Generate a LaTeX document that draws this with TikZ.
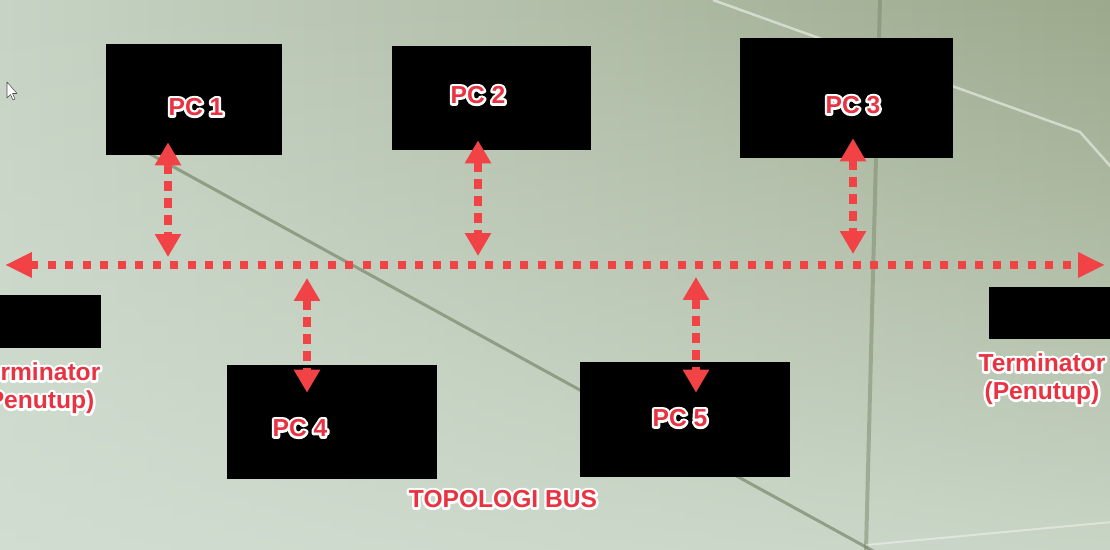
\documentclass[tikz,border=0pt]{standalone}
\usepackage{fontspec}
\setmainfont{Liberation Sans}
\usetikzlibrary{arrows.meta,calc,fadings}

\definecolor{busred}{RGB}{241,67,70}
\definecolor{tagred}{RGB}{232,52,66}
\definecolor{bgleft}{RGB}{199,211,196}
\definecolor{bgright}{RGB}{156,169,140}
\definecolor{bglight}{RGB}{212,224,212}
\definecolor{seam}{RGB}{120,136,106}
% white outline behind the red text
\newcommand{\tg}[1]{\leavevmode\rlap{\special{pdf:literal direct 1 Tr 1 1 1 RG 2.8 w 1 j}#1\special{pdf:literal direct 0 Tr 0.4 w}}#1}

\begin{document}
\begin{tikzpicture}[x=0.02cm, y=-0.02cm,
    pcbox/.style={fill=black, inner sep=0pt},
    tag/.style={text=tagred, font=\fontsize{14}{16}\selectfont\bfseries, align=center, inner sep=0pt},
    bus/.style={busred, line width=0.16cm, dash pattern=on 0.16cm off 0.19cm,
        {Triangle[length=0.54cm,width=0.48cm]}-{Triangle[length=0.54cm,width=0.48cm]}},
    tap/.style={busred, line width=0.15cm, dash pattern=on 0.2cm off 0.14cm,
        {Triangle[length=0.46cm,width=0.5cm]}-{Triangle[length=0.46cm,width=0.5cm]}}]
    \useasboundingbox (0,0) rectangle (1110,550);
    % background
    \shade[left color=bgleft, right color=bgright] (0,0) rectangle (1110,550);
    \fill[bglight, path fading=north, fill opacity=0.8] (0,0) rectangle (1110,550);
    \draw[seam, line width=0.06cm, opacity=0.7] (130,143) -- (875,552);
    \draw[seam, line width=0.08cm, opacity=0.5] (880,0) -- (866,550);
    \draw[white, line width=0.05cm, opacity=0.5] (713,0) -- (1080,132) -- (1112,168);
    \draw[white, line width=0.04cm, opacity=0.4] (866,545) -- (1112,522);
    \draw[fill=white, draw=black!70, line width=0.3pt, line join=round]
        (7,82) -- (7,98) -- (10.5,94.5) -- (13,100) -- (15,99) -- (12.5,93.5) -- (17,93.5) -- cycle;

    % boxes
    \node[pcbox, minimum width=3.52cm, minimum height=2.22cm] (pc1) at (194,99.5) {};
    \node[pcbox, minimum width=3.98cm, minimum height=2.08cm] (pc2) at (491.5,98) {};
    \node[pcbox, minimum width=4.26cm, minimum height=2.40cm] (pc3) at (846.5,98) {};
    \node[pcbox, minimum width=4.20cm, minimum height=2.28cm] (pc4) at (332,422) {};
    \node[pcbox, minimum width=4.20cm, minimum height=2.30cm] (pc5) at (685,419.5) {};
    \node[pcbox, minimum width=2.42cm, minimum height=1.06cm] (termL) at (40.5,321.5) {};
    \node[pcbox, minimum width=2.82cm, minimum height=1.04cm] (termR) at (1059.5,313) {};

    % bus and taps
    \coordinate (busL) at (5,265);
    \coordinate (busR) at (1105,265);
    \coordinate (t1) at (168,265);
    \coordinate (t2) at (478,265);
    \coordinate (t3) at (853,265);
    \coordinate (t4) at (307,265);
    \coordinate (t5) at (696,265);
    \draw[tap] ($(pc1.south -| t1)+(0,-13)$) -- ($(t1)+(0,-8)$);
    \draw[tap] ($(pc2.south -| t2)+(0,-10)$) -- ($(t2)+(0,-9)$);
    \draw[tap] ($(pc3.south -| t3)+(0,-20)$) -- ($(t3)+(0,-11)$);
    \draw[tap] ($(t4)+(0,13)$) -- ($(pc4.north -| t4)+(0,28)$);
    \draw[tap] ($(t5)+(0,12)$) -- ($(pc5.north -| t5)+(0,31)$);
    \draw[bus] (busL) -- (busR);

    % labels
    \node[tag] (pc1txt) at (196,107) {\tg{PC 1}};
    \node[tag] (pc2txt) at (478,95) {\tg{PC 2}};
    \node[tag] (pc3txt) at (853,105) {\tg{PC 3}};
    \node[tag] (pc4txt) at (300,428) {\tg{PC 4}};
    \node[tag] (pc5txt) at (680,418) {\tg{PC 5}};
    \node[tag] (termLtxt) at (37,388) {\tg{Terminator}\\\tg{(Penutup)}};
    \node[tag] (termRtxt) at (1042,379) {\tg{Terminator}\\\tg{(Penutup)}};
    \node[tag] (title) at (503,499) {\tg{TOPOLOGI BUS}};
\end{tikzpicture}
\end{document}
